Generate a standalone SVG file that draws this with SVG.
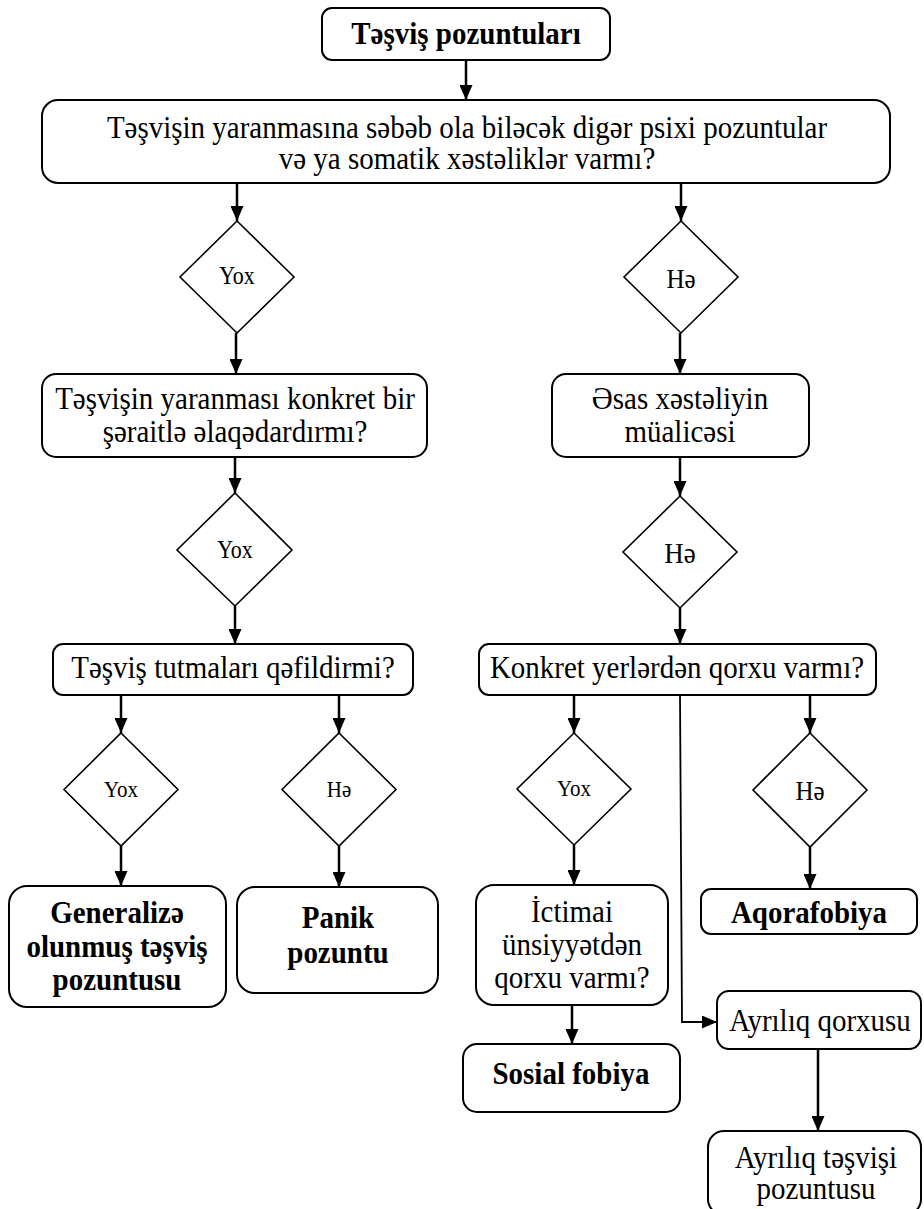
<svg xmlns="http://www.w3.org/2000/svg" width="924" height="1209" viewBox="0 0 924 1209">
<style>
.bx{fill:#fff;stroke:#000;stroke-width:2}
.dm{fill:#fff;stroke:#000;stroke-width:1.6}
.t{font-family:"Liberation Serif","DejaVu Serif","Times New Roman",serif;font-size:29px;text-anchor:middle;fill:#000}
.b{font-weight:bold}
.c{fill:none;stroke:#000;stroke-width:2.5}
.c2{fill:none;stroke:#000;stroke-width:1.8}
</style>
<defs>
<marker id="ah" markerUnits="userSpaceOnUse" viewBox="0 0 15 13" markerWidth="15" markerHeight="13" refX="15" refY="6.5" orient="auto">
<path d="M0,0 L15,6.5 L0,13 z" fill="#000"/>
</marker>
</defs>
<rect width="924" height="1209" fill="#fff"/>
<g id="connectors">
<line class="c" x1="466" y1="60" x2="466" y2="100" marker-end="url(#ah)"/>
<line class="c" x1="237" y1="183" x2="237" y2="221" marker-end="url(#ah)"/>
<line class="c" x1="681" y1="183" x2="681" y2="221" marker-end="url(#ah)"/>
<line class="c" x1="236" y1="333" x2="236" y2="374" marker-end="url(#ah)"/>
<line class="c" x1="680" y1="333" x2="680" y2="374" marker-end="url(#ah)"/>
<line class="c" x1="235" y1="457" x2="235" y2="493" marker-end="url(#ah)"/>
<line class="c" x1="680" y1="457" x2="680" y2="496" marker-end="url(#ah)"/>
<line class="c" x1="235" y1="606" x2="235" y2="644" marker-end="url(#ah)"/>
<line class="c" x1="680" y1="608" x2="680" y2="644" marker-end="url(#ah)"/>
<line class="c" x1="121" y1="695" x2="121" y2="733" marker-end="url(#ah)"/>
<line class="c" x1="339" y1="695" x2="339" y2="733" marker-end="url(#ah)"/>
<line class="c" x1="121" y1="846" x2="121" y2="886" marker-end="url(#ah)"/>
<line class="c" x1="339" y1="846" x2="339" y2="887" marker-end="url(#ah)"/>
<line class="c" x1="574" y1="695" x2="574" y2="733" marker-end="url(#ah)"/>
<line class="c" x1="810" y1="695" x2="810" y2="733" marker-end="url(#ah)"/>
<line class="c" x1="574" y1="845" x2="574" y2="885" marker-end="url(#ah)"/>
<line class="c" x1="810" y1="847" x2="810" y2="889" marker-end="url(#ah)"/>
<line class="c" x1="572" y1="1005" x2="572" y2="1044" marker-end="url(#ah)"/>
<polyline class="c2" points="680,695 682,1022 717,1022" marker-end="url(#ah)"/>
<line class="c" x1="818" y1="1049" x2="818" y2="1131" marker-end="url(#ah)"/>
</g>
<g id="n-start">
<rect class="bx" x="322" y="8" width="288" height="52" rx="10"/>
<text class="t b" x="466" y="0" transform="matrix(1 0 0 1.12 0 44)">Təşviş pozuntuları</text>
</g>
<g id="n-q1">
<rect class="bx" x="42" y="100" width="848" height="83" rx="16"/>
<text class="t" x="467" y="0" transform="matrix(1 0 0 1.12 0 138)">Təşvişin yaranmasına səbəb ola biləcək digər psixi pozuntular</text>
<text class="t" x="467" y="0" transform="matrix(1 0 0 1.12 0 169)">və ya somatik xəstəliklər varmı?</text>
</g>
<g id="d-yox1">
<polygon class="dm" points="237,221 294,277 237,333 180,277"/>
<text class="t" x="237" y="0" transform="matrix(1 0 0 1.12 0 284)" style="font-size:22px">Yox</text>
</g>
<g id="d-he1">
<polygon class="dm" points="681,221 738,277 681,333 624,277"/>
<text class="t" x="681" y="0" transform="matrix(1 0 0 1.12 0 288)" style="font-size:25px">Hə</text>
</g>
<g id="n-q2">
<rect class="bx" x="42" y="374" width="385" height="83" rx="14"/>
<text class="t" x="235" y="0" transform="matrix(1 0 0 1.12 0 409)">Təşvişin yaranması konkret bir</text>
<text class="t" x="235" y="0" transform="matrix(1 0 0 1.12 0 442)">şəraitlə əlaqədardırmı?</text>
</g>
<g id="n-treat">
<rect class="bx" x="552" y="374" width="257" height="83" rx="14"/>
<text class="t" x="680" y="0" transform="matrix(1 0 0 1.12 0 409)">Əsas xəstəliyin</text>
<text class="t" x="680" y="0" transform="matrix(1 0 0 1.12 0 442)">müalicəsi</text>
</g>
<g id="d-yox2">
<polygon class="dm" points="235,493 292,550 235,606 177,550"/>
<text class="t" x="235" y="0" transform="matrix(1 0 0 1.12 0 558)" style="font-size:22px">Yox</text>
</g>
<g id="d-he2">
<polygon class="dm" points="680,496 737,552 680,608 623,552"/>
<text class="t" x="680" y="0" transform="matrix(1 0 0 1.12 0 563)" style="font-size:27px">Hə</text>
</g>
<g id="n-q3">
<rect class="bx" x="53" y="644" width="360" height="51" rx="10"/>
<text class="t" x="233" y="0" transform="matrix(1 0 0 1.12 0 678)">Təşviş tutmaları qəfildirmi?</text>
</g>
<g id="n-q4">
<rect class="bx" x="479" y="644" width="397" height="51" rx="10"/>
<text class="t" x="677" y="0" transform="matrix(1 0 0 1.12 0 678)">Konkret yerlərdən qorxu varmı?</text>
</g>
<g id="d-yox3">
<polygon class="dm" points="121,733 178,789.5 121,846 64,789.5"/>
<text class="t" x="121" y="0" transform="matrix(1 0 0 1.12 0 797)" style="font-size:21px">Yox</text>
</g>
<g id="d-he3">
<polygon class="dm" points="339,733 396,789.5 339,846 282,789.5"/>
<text class="t" x="339" y="0" transform="matrix(1 0 0 1.12 0 797)" style="font-size:21px">Hə</text>
</g>
<g id="d-yox4">
<polygon class="dm" points="574,733 631,789 574,845 517,789"/>
<text class="t" x="574" y="0" transform="matrix(1 0 0 1.12 0 796)" style="font-size:21px">Yox</text>
</g>
<g id="d-he4">
<polygon class="dm" points="810,733 867,790 810,847 753,790"/>
<text class="t" x="810" y="0" transform="matrix(1 0 0 1.12 0 800)" style="font-size:25px">Hə</text>
</g>
<g id="n-gen">
<rect class="bx" x="9" y="886" width="217" height="121" rx="18"/>
<text class="t b" x="117" y="0" transform="matrix(1 0 0 1.12 0 923)">Generalizə</text>
<text class="t b" x="117" y="0" transform="matrix(1 0 0 1.12 0 957)">olunmuş təşviş</text>
<text class="t b" x="117" y="0" transform="matrix(1 0 0 1.12 0 990)">pozuntusu</text>
</g>
<g id="n-panik">
<rect class="bx" x="237" y="887" width="201" height="106" rx="18"/>
<text class="t b" x="338" y="0" transform="matrix(1 0 0 1.12 0 928)">Panik</text>
<text class="t b" x="338" y="0" transform="matrix(1 0 0 1.12 0 963)">pozuntu</text>
</g>
<g id="n-ictimai">
<rect class="bx" x="476" y="885" width="192" height="120" rx="18"/>
<text class="t" x="572" y="0" transform="matrix(1 0 0 1.12 0 922)">İctimai</text>
<text class="t" x="572" y="0" transform="matrix(1 0 0 1.12 0 955)">ünsiyyətdən</text>
<text class="t" x="572" y="0" transform="matrix(1 0 0 1.12 0 988)">qorxu varmı?</text>
</g>
<g id="n-aqora">
<rect class="bx" x="701" y="889" width="216" height="45" rx="10"/>
<text class="t b" x="809" y="0" transform="matrix(1 0 0 1.12 0 923)">Aqorafobiya</text>
</g>
<g id="n-sosial">
<rect class="bx" x="463" y="1044" width="217" height="68" rx="14"/>
<text class="t b" x="571" y="0" transform="matrix(1 0 0 1.12 0 1084)">Sosial fobiya</text>
</g>
<g id="n-ayr1">
<rect class="bx" x="717" y="991" width="204" height="58" rx="12"/>
<text class="t" x="820" y="0" transform="matrix(1 0 0 1.12 0 1031)">Ayrılıq qorxusu</text>
</g>
<g id="n-ayr2">
<rect class="bx" x="708" y="1131" width="213" height="84" rx="16"/>
<text class="t" x="816" y="0" transform="matrix(1 0 0 1.12 0 1168)">Ayrılıq təşvişi</text>
<text class="t" x="816" y="0" transform="matrix(1 0 0 1.12 0 1199)">pozuntusu</text>
</g>
</svg>
